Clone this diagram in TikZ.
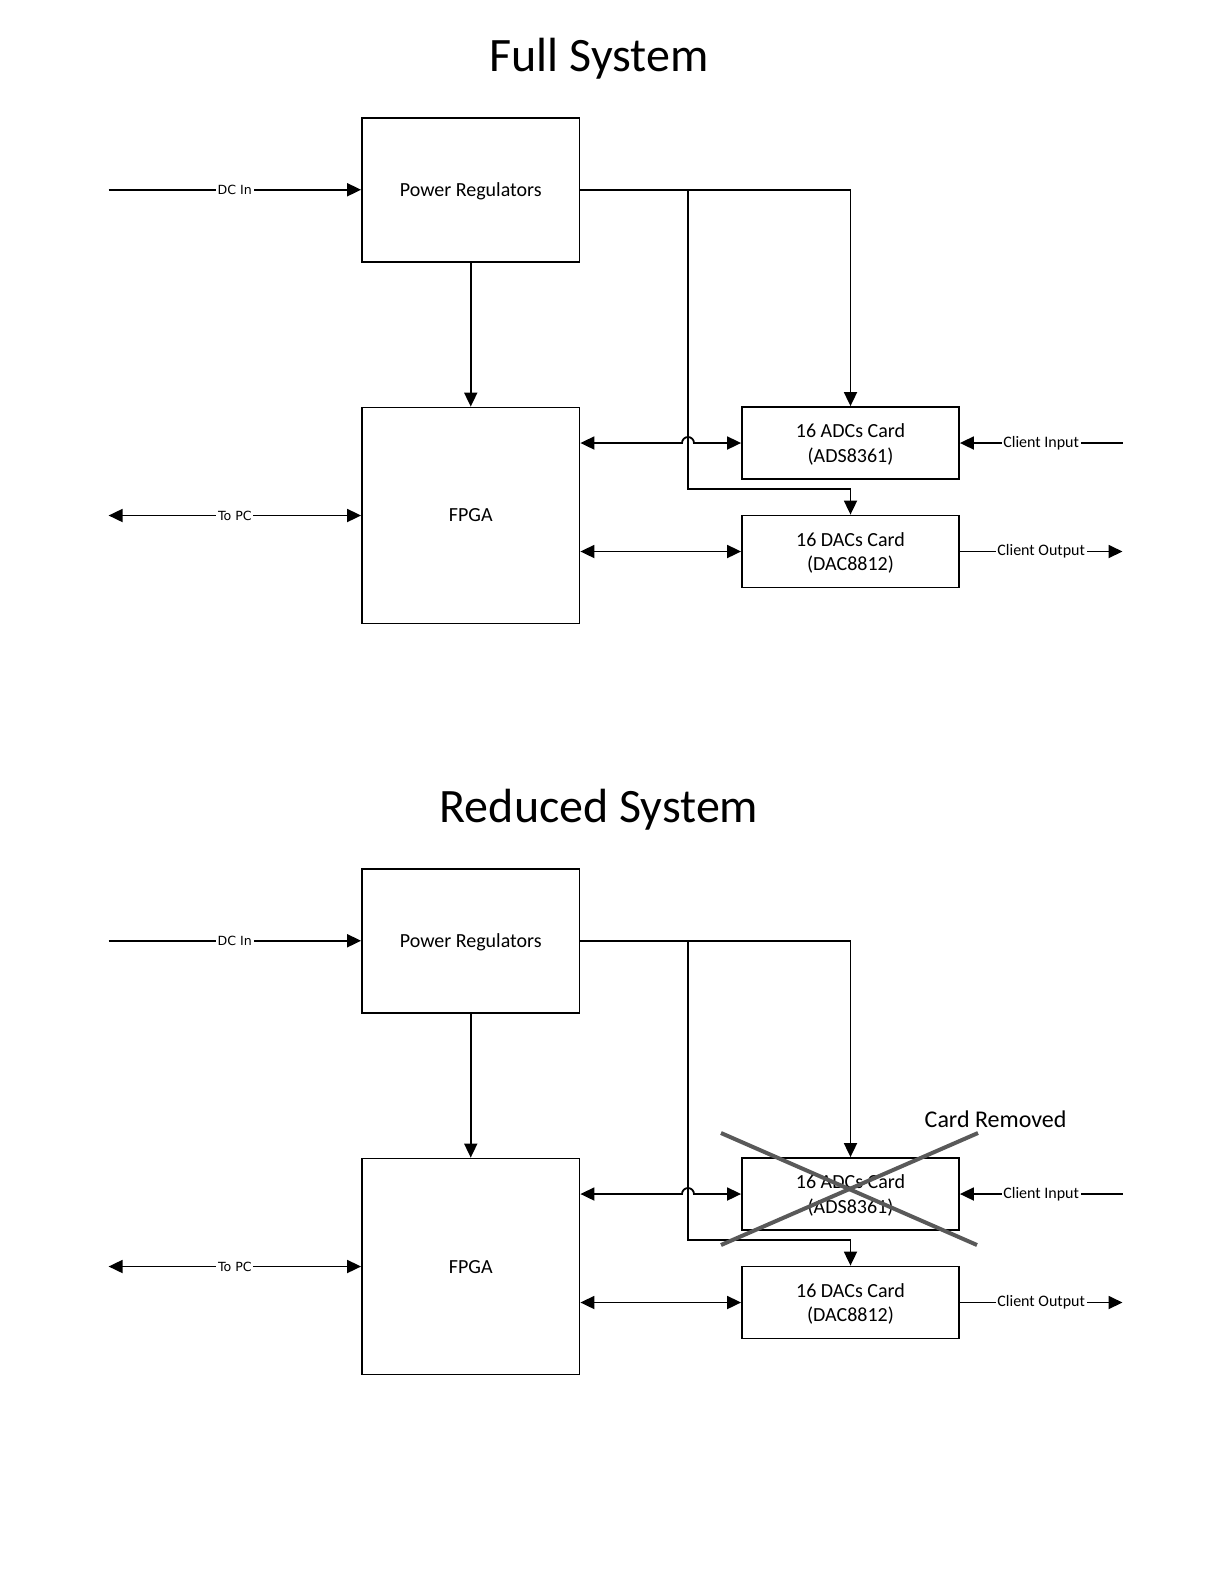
\documentclass[tikz,border=0pt]{standalone}
\usepackage{fontspec}
\setmainfont{Carlito}
\newfontfamily\lblfont{DejaVu Sans}
\usetikzlibrary{arrows.meta}

\begin{document}
\begin{tikzpicture}[x=0.5pt,y=-0.5pt,
	>={Triangle[length=7pt,width=6.5pt]},
	block/.style={draw,line width=0.9pt,inner sep=0pt,text depth=0pt,align=center,font=\fontsize{10}{12.2}\selectfont},
	bigbox/.style={block,minimum width=108.75pt,minimum height=72pt},
	fpgabox/.style={block,minimum width=108.75pt,minimum height=108pt},
	cardbox/.style={block,minimum width=108.5pt,minimum height=36pt},
	wire/.style={line width=0.9pt},
	pclbl/.style={fill=white,inner sep=0.8pt,font=\lblfont\fontsize{6.3}{7}\selectfont},
	clbl/.style={fill=white,inner sep=0.8pt,font=\fontsize{8}{9}\selectfont},
	heading/.style={font=\fontsize{24}{28}\selectfont},
	crossout/.style={line width=2pt,color=black!65}]
	\useasboundingbox (0,0) rectangle (1230,1591);
	% full system
	\node[heading] (titleA) at (599,59) {Full System};
	\node[bigbox] (prA) at (470.75,189.75) {Power Regulators};
	\node[fpgabox] (fpgaA) at (470.75,515.5) {FPGA};
	\node[cardbox] (adcA) at (850.5,443) {16 ADCs Card\\(ADS8361)};
	\node[cardbox] (dacA) at (850.5,551.5) {16 DACs Card\\(DAC8812)};
	\coordinate (dcA) at (108.6,189.75);
	\coordinate (pcA) at (108.6,515.5);
	\coordinate (cinA) at (1122.5,443);
	\coordinate (coutA) at (1122.5,551.5);
	\coordinate (splitA) at (688,189.75);
	\coordinate (bendA) at (688,489);
	\draw [wire,->] (dcA) -- node[pclbl] {DC In} (prA.west);
	\draw [wire,<->] (pcA) -- node[pclbl] {To PC} (fpgaA.west);
	\draw [wire,->] (prA.south) -- (fpgaA.north);
	\draw [wire,->] (prA.east) -- (adcA.north |- prA.east) -- (adcA.north);
	\draw [wire,->] (splitA) -- (bendA) -| (dacA.north);
	\draw [wire,<->] (fpgaA.east |- adcA.west) -- (682,443) arc[start angle=180,end angle=0,radius=3pt] -- (adcA.west);
	\draw [wire,<->] (fpgaA.east |- dacA.west) -- (dacA.west);
	\draw [wire,->] (cinA) -- node[clbl] {Client Input} (adcA.east);
	\draw [wire,->] (dacA.east) -- node[clbl] {Client Output} (coutA);
	% reduced system
	\node[heading] (titleB) at (599,810) {Reduced System};
	\node[bigbox] (prB) at (470.75,940.75) {Power Regulators};
	\node[fpgabox] (fpgaB) at (470.75,1266.5) {FPGA};
	\node[cardbox] (adcB) at (850.5,1194) {16 ADCs Card\\(ADS8361)};
	\node[cardbox] (dacB) at (850.5,1302.5) {16 DACs Card\\(DAC8812)};
	\coordinate (dcB) at (108.6,940.75);
	\coordinate (pcB) at (108.6,1266.5);
	\coordinate (cinB) at (1122.5,1194);
	\coordinate (coutB) at (1122.5,1302.5);
	\coordinate (splitB) at (688,940.75);
	\coordinate (bendB) at (688,1240);
	\draw [wire,->] (dcB) -- node[pclbl] {DC In} (prB.west);
	\draw [wire,<->] (pcB) -- node[pclbl] {To PC} (fpgaB.west);
	\draw [wire,->] (prB.south) -- (fpgaB.north);
	\draw [wire,->] (prB.east) -- (adcB.north |- prB.east) -- (adcB.north);
	\draw [wire,->] (splitB) -- (bendB) -| (dacB.north);
	\draw [wire,<->] (fpgaB.east |- adcB.west) -- (682,1194) arc[start angle=180,end angle=0,radius=3pt] -- (adcB.west);
	\draw [wire,<->] (fpgaB.east |- dacB.west) -- (dacB.west);
	\draw [wire,->] (cinB) -- node[clbl] {Client Input} (adcB.east);
	\draw [wire,->] (dacB.east) -- node[clbl] {Client Output} (coutB);
	\draw [crossout] (721,1133) -- (977,1245);
	\draw [crossout] (721,1245) -- (978,1133);
	\node[font=\fontsize{12}{14}\selectfont] (removed) at (995.6,1119.5) {Card Removed};
\end{tikzpicture}
\end{document}
